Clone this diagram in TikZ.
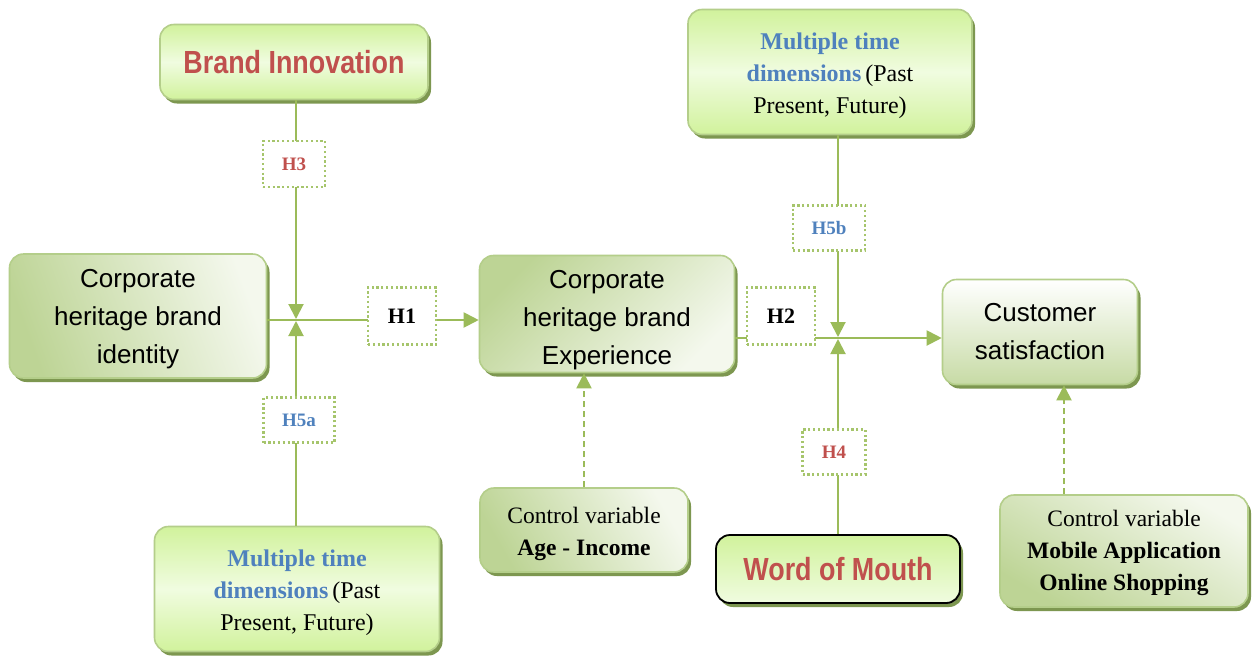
\documentclass[tikz,border=0pt]{standalone}
\usepackage{fontspec}
\setmainfont{Liberation Serif}
\setsansfont{Liberation Sans}
\newfontfamily\tallsans{Liberation Sans}[FakeStretch=0.84]
\usetikzlibrary{arrows.meta,shadows}

% invisible strut on the first line that pushes a text block down by #1/2
\newcommand\lowerby[1]{\rule{0pt}{\dimexpr\fontcharht\font`l+#1\relax}}

\definecolor{linkgreen}{HTML}{9BBB59}
\definecolor{dotgreen}{HTML}{A6C56C}
\definecolor{edgegreen}{HTML}{B4CE8A}
\definecolor{shadowgreen}{HTML}{6F8C3E}
\definecolor{hred}{HTML}{C0504D}
\definecolor{hblue}{HTML}{4F81BD}
\definecolor{limeA}{HTML}{D1F29C}
\definecolor{limeB}{HTML}{F0FCE0}
\definecolor{paleA}{HTML}{BDD495}
\definecolor{paleB}{HTML}{F4F8ED}

\tikzset{
  basebox/.style={rounded corners=14pt, line width=1.6pt, align=center, inner sep=0pt,
    drop shadow={shadow xshift=3pt, shadow yshift=-4pt, fill=shadowgreen, opacity=0.9}},
  palebox/.style={basebox, draw=edgegreen, top color=paleA, bottom color=paleB, shading angle=#1},
  palebox/.default=45,
  limebox/.style={basebox, draw=edgegreen, top color=limeA, bottom color=limeA, middle color=limeB},
  hbox/.style={draw=dotgreen, line width=2.2pt, dash pattern=on 2.2pt off 2.6pt, fill=white,
    inner sep=0pt, align=center, font=\bfseries\fontsize{19}{22}\selectfont},
  bighbox/.style={hbox, minimum width=68pt, minimum height=57pt, font=\bfseries\fontsize{22}{24}\selectfont},
  link/.style={draw=linkgreen, line width=2pt},
  tip/.style={-{Triangle[width=15pt,length=15pt]}},
  ctrllink/.style={link, dash pattern=on 6pt off 4pt, tip},
  sanstext/.style={font=\sffamily\fontsize{26}{38}\selectfont},
  serifctl/.style={font=\fontsize{23.5}{32}\selectfont},
  timetext/.style={font=\fontsize{24}{32}\selectfont},
}

\begin{document}
\begin{tikzpicture}[x=1pt,y=-1pt]
  \fill[white] (0,0) rectangle (1253,657);
  \useasboundingbox (0,0) rectangle (1253,657);

  % junctions where moderating paths meet the main paths
  \coordinate (j1) at (296,320);
  \coordinate (j2) at (838,338);

  % construct boxes
  \node[limebox, minimum width=268pt, minimum height=75pt] (brand) at (294,62)
    {\tallsans\bfseries\fontsize{32}{36}\selectfont\color{hred}Brand Innovation};
  \node[palebox=110, minimum width=257pt, minimum height=124pt, sanstext] (ident) at (138,316)
    {\lowerby{6pt}Corporate\\heritage brand\\identity};
  \node[palebox=45, minimum width=255pt, minimum height=117pt, sanstext] (exp) at (607,314)
    {\lowerby{13pt}Corporate\\heritage brand\\Experience};
  \node[limebox, minimum width=284pt, minimum height=125pt, timetext] (time2) at (830,72)
    {\lowerby{8pt}\textcolor{hblue}{\bfseries Multiple time}\\\textcolor{hblue}{\bfseries dimensions}\,(Past\\Present, Future)};
  \node[palebox=0, minimum width=195pt, minimum height=105pt, sanstext, top color=white, bottom color=paleA!85] (cust) at (1040,332)
    {Customer\\satisfaction};
  \node[palebox=120, minimum width=208pt, minimum height=84pt, serifctl] (ctrl1) at (584,530)
    {\lowerby{8pt}Control variable\\\bfseries Age - Income};
  \node[basebox, draw=black, top color=limeA, bottom color=limeB, line width=1.8pt,
        drop shadow={shadow xshift=1pt, shadow yshift=-1pt, fill=black!60, opacity=0.5},
        minimum width=244pt, minimum height=68pt] (wom) at (838,569)
    {\tallsans\bfseries\fontsize{32}{36}\selectfont\color{hred}Word of Mouth};
  \node[palebox=150, minimum width=248pt, minimum height=112pt, serifctl] (ctrl2) at (1124,551)
    {\lowerby{5pt}Control variable\\\bfseries Mobile Application\\\bfseries Online Shopping};
  \node[limebox, minimum width=285pt, minimum height=125pt, timetext] (time1) at (297,589)
    {\lowerby{8pt}\textcolor{hblue}{\bfseries Multiple time}\\\textcolor{hblue}{\bfseries dimensions}\,(Past\\Present, Future)};

  % main paths
  \draw[link, tip] (ident.east |- j1) -- (exp.west |- j1);
  \draw[link, tip] (exp.east |- j2) -- (cust.west |- j2);

  % moderating paths
  \draw[link, tip] (brand.south -| j1) -- ([yshift=1pt]j1);
  \draw[link, tip] (time1.north -| j1) -- ([yshift=-1pt]j1);
  \draw[link, tip] (time2.south -| j2) -- ([yshift=1pt]j2);
  \draw[link, tip] (wom.north -| j2) -- ([yshift=-1pt]j2);

  % control variables
  \draw[ctrllink] (ctrl1.north) -- (exp.south -| ctrl1.north);
  \coordinate (c2) at ([xshift=24pt]cust.south);
  \draw[ctrllink] (ctrl2.north -| c2) -- (c2);

  % hypothesis labels
  \node[hbox, minimum width=62pt, minimum height=46pt, text=hred] (h3) at (294,164) {H3};
  \node[hbox, minimum width=71pt, minimum height=45pt, text=hblue] (h5a) at (299,420) {H5a};
  \node[bighbox] (h1) at (402,316) {H1};
  \node[bighbox] (h2) at (781,316) {H2};
  \node[hbox, minimum width=72pt, minimum height=45pt, text=hblue] (h5b) at (829,228) {H5b};
  \node[hbox, minimum width=63pt, minimum height=45pt, text=hred] (h4) at (834,452) {H4};
\end{tikzpicture}
\end{document}
